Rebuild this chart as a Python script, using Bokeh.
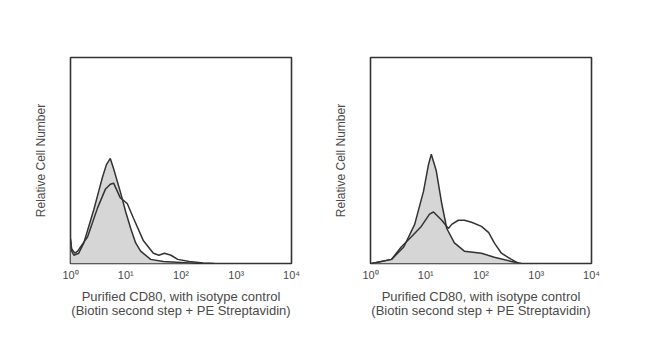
from bokeh.plotting import figure
from bokeh.layouts import row
from bokeh.models import FixedTicker
from bokeh.embed import file_html
from bokeh.resources import INLINE

# ---- data (fluorescence intensity, relative cell number) ----
tick_values = [1, 10, 100, 1000, 10000]
tick_labels = ["10⁰", "10¹", "10²", "10³", "10⁴"]

left_iso_x = [1, 1.05, 1.15, 1.41, 1.74, 2.14, 2.63, 3.31, 3.80, 4.47, 5.25, 6.03, 7.94, 10, 12.3, 15.1, 18.6, 28.2, 47.9, 100, 200]
left_iso_y = [0.11, 0.06, 0.04, 0.05, 0.10, 0.18, 0.26, 0.36, 0.42, 0.48, 0.51, 0.46, 0.35, 0.25, 0.17, 0.10, 0.06, 0.02, 0.01, 0.005, 0.0]

left_cd80_x = [1, 1.05, 1.2, 1.35, 2.04, 3.09, 4.27, 5.25, 6.03, 7.94, 10.7, 13.8, 20.9, 31.6, 39.8, 50.1, 66.1, 87.1, 141, 251, 398]
left_cd80_y = [0.12, 0.07, 0.05, 0.06, 0.13, 0.27, 0.36, 0.385, 0.39, 0.32, 0.29, 0.22, 0.11, 0.05, 0.04, 0.05, 0.04, 0.02, 0.01, 0.003, 0.0]

right_iso_x = [1.05, 2.4, 4.0, 6.3, 9.1, 11.2, 12.6, 15.5, 19.5, 24, 33, 50, 102, 174, 355, 537]
right_iso_y = [0.0, 0.02, 0.08, 0.19, 0.35, 0.48, 0.53, 0.45, 0.29, 0.17, 0.10, 0.06, 0.05, 0.03, 0.01, 0.0]

right_cd80_x = [1.05, 2.4, 3.6, 5.5, 8.3, 11.7, 13.8, 19.5, 25.7, 29.5, 38.9, 50, 67.6, 102, 138, 174, 234, 355, 479]
right_cd80_y = [0.0, 0.02, 0.08, 0.13, 0.18, 0.24, 0.25, 0.21, 0.17, 0.19, 0.21, 0.21, 0.20, 0.18, 0.15, 0.10, 0.05, 0.02, 0.0]

x_title = "Purified CD80, with isotype control\n(Biotin second step + PE Streptavidin)"
y_title = "Relative Cell Number"

FONT = "Liberation Sans"
LINE = "#333333"
FILL = "#d6d6d6"
TEXT = "#4a4a4a"


def make_panel(iso_x, iso_y, cd_x, cd_y):
    p = figure(width=300, height=343, x_axis_type="log",
               x_range=(1, 10000), y_range=(0, 1),
               output_backend="svg", toolbar_location=None,
               min_border_left=70, min_border_right=9,
               min_border_top=57, min_border_bottom=80)
    p.grid.visible = False
    p.outline_line_color = LINE
    p.outline_line_width = 1.6
    p.background_fill_color = "white"
    p.border_fill_color = "white"

    p.varea(x=iso_x, y1=0, y2=iso_y, fill_color=FILL)
    p.line(iso_x, iso_y, line_color=LINE, line_width=1.5)
    p.line(cd_x, cd_y, line_color=LINE, line_width=1.5)

    xa = p.xaxis[0]
    xa.ticker = FixedTicker(ticks=tick_values)
    xa.major_label_overrides = {v: l for v, l in zip(tick_values, tick_labels)}
    xa.axis_line_color = None
    xa.major_tick_line_color = None
    xa.minor_tick_line_color = None
    xa.major_tick_out = 0
    xa.major_tick_in = 0
    xa.major_label_text_font = FONT
    xa.major_label_text_font_size = "11px"
    xa.major_label_text_color = TEXT
    xa.major_label_standoff = 5
    xa.axis_label = x_title
    xa.axis_label_text_font = FONT
    xa.axis_label_text_font_size = "13px"
    xa.axis_label_text_font_style = "normal"
    xa.axis_label_text_color = TEXT
    xa.axis_label_text_line_height = 0.95
    xa.axis_label_standoff = 5

    ya = p.yaxis[0]
    ya.ticker = FixedTicker(ticks=[])
    ya.axis_line_color = None
    ya.major_tick_line_color = None
    ya.minor_tick_line_color = None
    ya.major_label_text_font_size = "0px"
    ya.axis_label = y_title
    ya.axis_label_text_font = FONT
    ya.axis_label_text_font_size = "12px"
    ya.axis_label_text_font_style = "normal"
    ya.axis_label_text_color = TEXT
    ya.axis_label_standoff = 23
    return p


p1 = make_panel(left_iso_x, left_iso_y, left_cd80_x, left_cd80_y)
p2 = make_panel(right_iso_x, right_iso_y, right_cd80_x, right_cd80_y)
layout = row(p1, p2)

open("out.html", "w").write(file_html(layout, INLINE))
